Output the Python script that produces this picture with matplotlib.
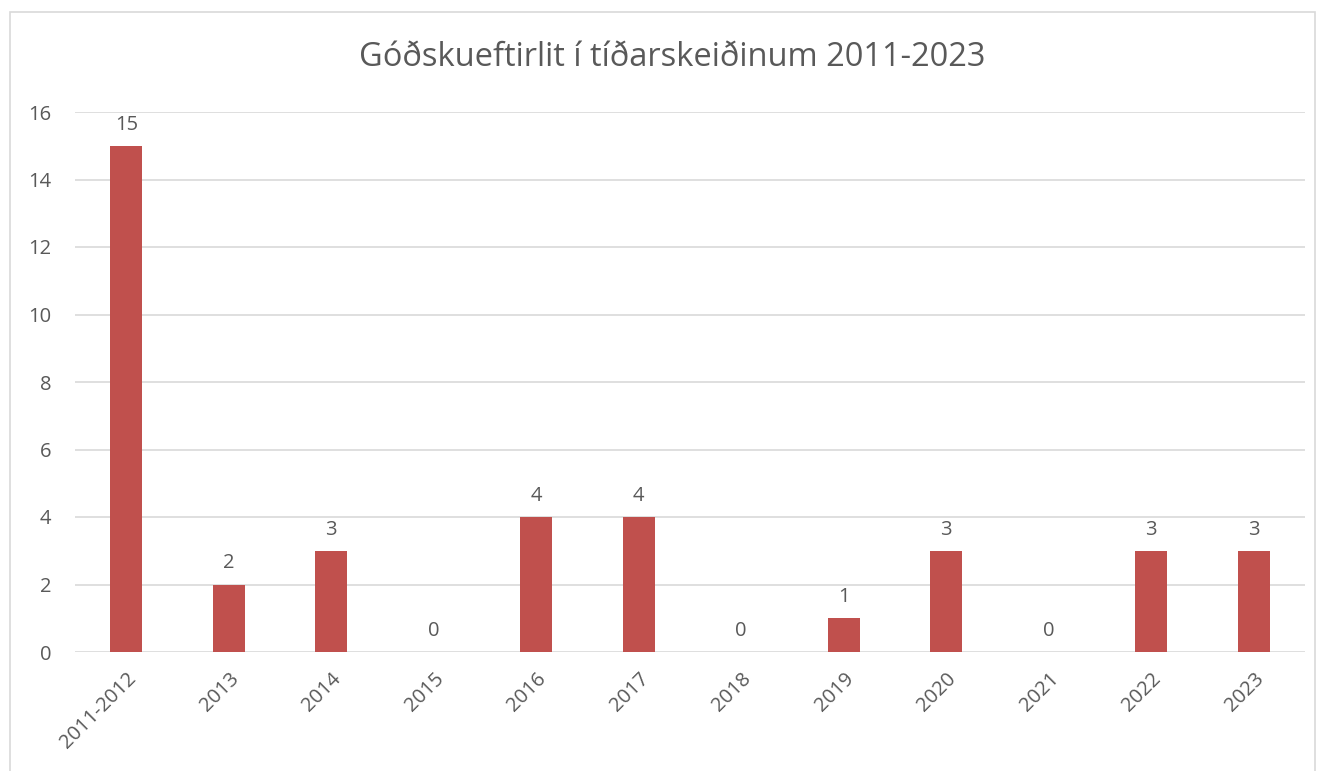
import matplotlib.pyplot as plt
from matplotlib.patches import Rectangle

# gögn
flokkar = ['2011-2012', '2013', '2014', '2015', '2016', '2017',
           '2018', '2019', '2020', '2021', '2022', '2023']
fjoldi = [15, 2, 3, 0, 4, 4, 0, 1, 3, 0, 3, 3]
yticks = [0, 2, 4, 6, 8, 10, 12, 14, 16]
titill = "Góðskueftirlit í tíðarskeiðinum 2011-2023"

plt.rcParams['font.family'] = ['Open Sans', 'DejaVu Sans']
textcol = '#595959'
barcol = '#C0504D'
gridcol = '#D9D9D9'

fig = plt.figure(figsize=(13.23, 7.71), dpi=100)
ax = fig.add_axes([75 / 1323, 1 - 652 / 771, 1230 / 1323, 540 / 771])

x = range(len(flokkar))
bars = ax.bar(x, fjoldi, width=0.31, color=barcol, zorder=3)
for xi, v in zip(x, fjoldi):
    ax.annotate(str(v), (xi, v), xytext=(0, 8), textcoords='offset points',
                ha='center', va='bottom', fontsize=14.5, color=textcol)

ax.set_xlim(-0.5, len(flokkar) - 0.5)
ax.set_ylim(0, 16)
ax.set_yticks(yticks)
ax.set_xticks(list(x))
ax.set_xticklabels(flokkar, rotation=45, ha='right', rotation_mode='anchor')
ax.tick_params(axis='both', length=0, labelsize=14.5, colors=textcol)
ax.tick_params(axis='x', pad=12)
ax.tick_params(axis='y', pad=17)
ax.grid(axis='y', color=gridcol, linewidth=1.2, zorder=0)
for s in ax.spines.values():
    s.set_visible(False)

fig.text(672 / 1323, 1 - 58 / 771, titill, ha='center', va='center',
         fontsize=23.5, color=textcol)

# rammi utan um myndina
fig.patches.append(Rectangle((10 / 1323, -0.01), 1305 / 1323, 1 - 12 / 771 + 0.01,
                             transform=fig.transFigure, fill=False,
                             edgecolor=gridcol, linewidth=1.2))

fig.savefig('out.png', dpi=100)
